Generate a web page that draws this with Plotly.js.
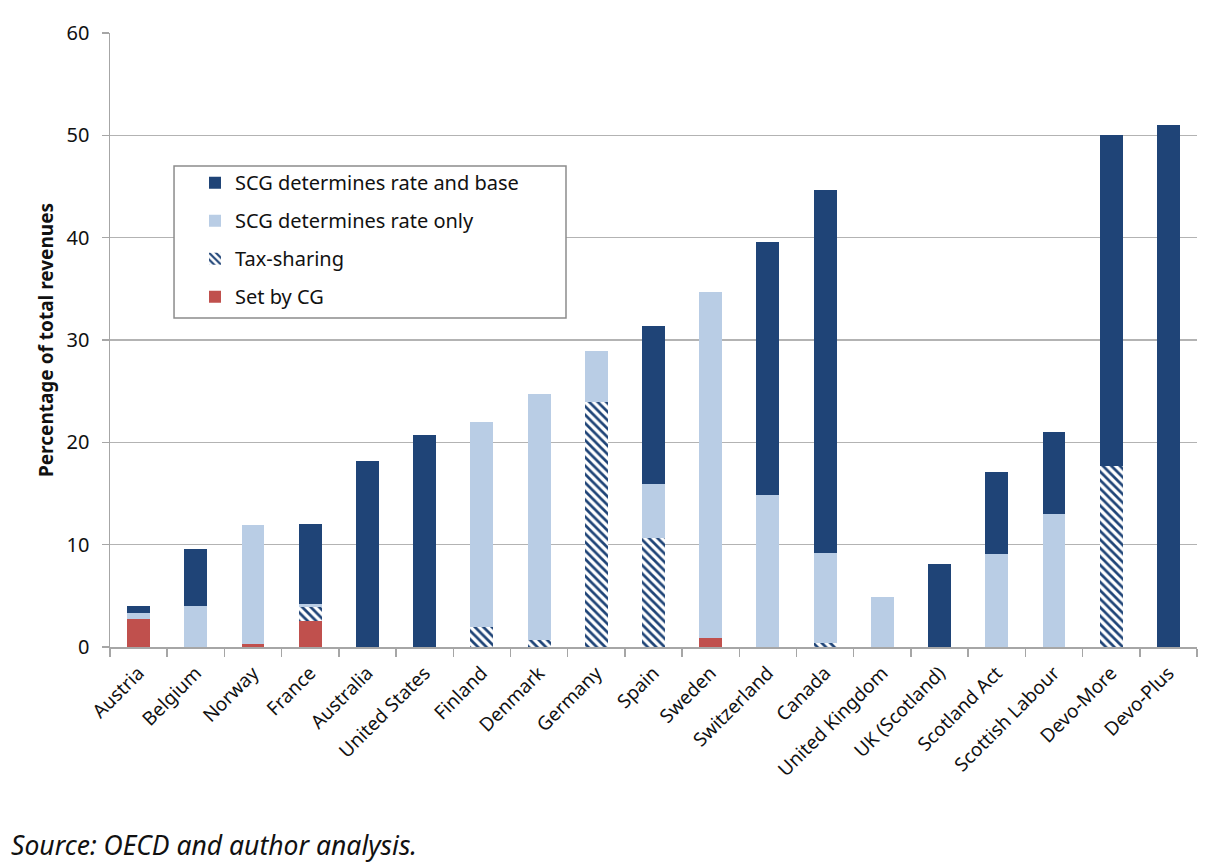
<!DOCTYPE html>
<html>
<head>
<meta charset="utf-8">
<script src="https://cdn.plot.ly/plotly-3.0.1.min.js"></script>
<style>html,body{margin:0;padding:0;background:#fff;}#chart{width:1218px;height:862px;}</style>
</head>
<body>
<div id="chart"></div>
<script>
const categories = ["Austria","Belgium","Norway","France","Australia","United States","Finland","Denmark","Germany","Spain","Sweden","Switzerland","Canada","United Kingdom","UK (Scotland)","Scotland Act","Scottish Labour","Devo-More","Devo-Plus"];
const setByCG      = [2.7, 0,   0.3, 2.5, 0,    0,    0,    0,    0,    0,    0.9,  0,    0,    0,   0,   0,   0,    0,    0];
const taxSharing   = [0,   0,   0,   1.4, 0,    0,    2.0,  0.7,  23.9, 10.7, 0,    0,    0.4,  0,   0,   0,   0,    17.7, 0];
const rateOnly     = [0.6, 4.0, 11.6,0.3, 0,    0,    20.0, 24.0, 5.0,  5.2,  33.8, 14.9, 8.8,  4.9, 0,   9.1, 13.0, 0,    0];
const rateAndBase  = [0.7, 5.6, 0,   7.8, 18.2, 20.7, 0,    0,    0,    15.5, 0,    24.7, 35.5, 0,   8.1, 8.0, 8.0,  32.3, 51.0];
const seriesNames = ["Set by CG","Tax-sharing","SCG determines rate only","SCG determines rate and base"];

const DARK = "#1f4477", LIGHT = "#b9cde5", RED = "#c0504d";
const FONT = "Noto Sans, DejaVu Sans, sans-serif";

const traces = [
  {name: seriesNames[0], y: setByCG, marker: {color: RED}, legendgroup: "a", legendrank: 4},
  {name: seriesNames[1], y: taxSharing, marker: {color: "#ffffff", pattern: {shape: "\\", fgcolor: DARK, bgcolor: "#ffffff", size: 6, solidity: 0.45}}, legendgroup: "b", legendrank: 3},
  {name: seriesNames[2], y: rateOnly, marker: {color: LIGHT}, legendgroup: "c", legendrank: 2},
  {name: seriesNames[3], y: rateAndBase, marker: {color: DARK}, legendgroup: "d", legendrank: 1}
].map(t => Object.assign({type: "bar", x: categories, hoverinfo: "y+name"}, t));

const layout = {
  width: 1218, height: 862,
  margin: {l: 110, r: 21, t: 33, b: 215},
  paper_bgcolor: "#ffffff", plot_bgcolor: "#ffffff",
  barmode: "stack", bargap: 0.6,
  font: {family: FONT, color: "#000"},
  showlegend: true,
  legend: {
    x: 0.0782, y: 0.788, xanchor: "left", yanchor: "top",
    traceorder: "grouped", tracegroupgap: 9,
    bgcolor: "rgba(0,0,0,0)", borderwidth: 0,
    font: {family: FONT, size: 20, color: "#111"}
  },
  shapes: [{
    type: "rect", xref: "paper", yref: "paper",
    x0: 0.0589, x1: 0.4195, y0: 0.5358, y1: 0.7834,
    fillcolor: "#ffffff", line: {color: "#8c8c8c", width: 1.5}, layer: "above"
  }],
  xaxis: {
    type: "category", tickangle: -45,
    tickfont: {family: FONT, size: 19, color: "#111"},
    showline: true, linecolor: "#a6a6a6", linewidth: 1.5,
    ticks: "outside", tickson: "boundaries", ticklen: 8, tickcolor: "#a6a6a6", tickwidth: 1.5,
    ticklabelstandoff: 6,
    showgrid: false, fixedrange: true
  },
  yaxis: {
    range: [0, 60], dtick: 10,
    tickfont: {family: FONT, size: 20, color: "#111"},
    showgrid: true, gridcolor: "#b3b3b3", gridwidth: 1.5,
    showline: true, linecolor: "#a6a6a6", linewidth: 1.5,
    ticks: "outside", ticklen: 7, tickcolor: "#a6a6a6", tickwidth: 1.5,
    ticklabelstandoff: 8,
    zeroline: false,
    title: {text: "<b>Percentage of total revenues</b>", font: {family: FONT, size: 19, color: "#111"}, standoff: 8},
    fixedrange: true
  },
  annotations: [{
    text: "<i>Source: OECD and author analysis.</i>",
    xref: "paper", yref: "paper", x: -0.093, y: -0.29, xanchor: "left", yanchor: "top",
    showarrow: false, font: {family: FONT, size: 26.5, color: "#111"}
  }]
};

Plotly.newPlot("chart", traces, layout, {displayModeBar: false, staticPlot: true});
</script>
</body>
</html>
